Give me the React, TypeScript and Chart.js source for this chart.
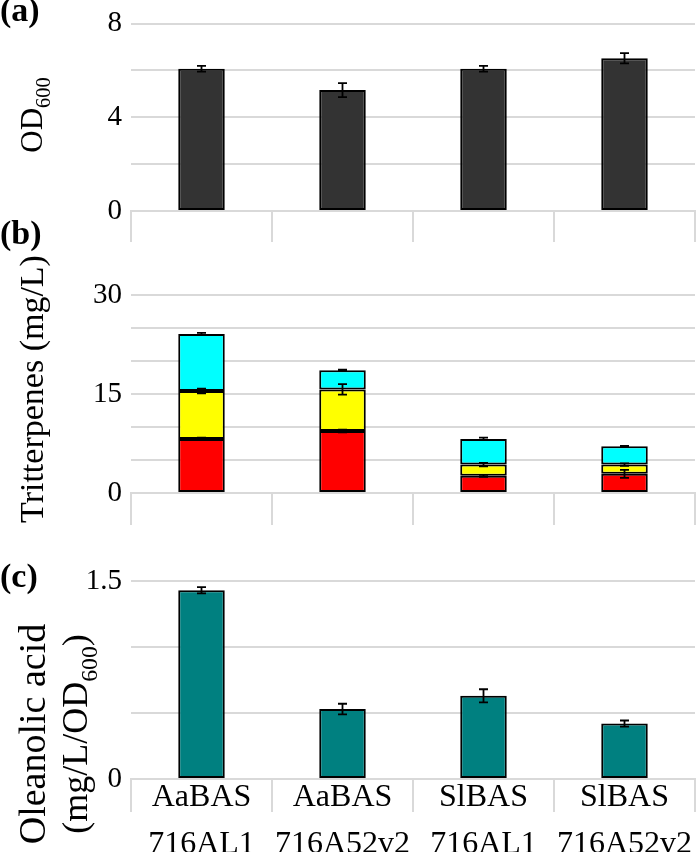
import React, { useEffect, useRef } from "react";
import { Chart, registerables } from "chart.js";

Chart.register(...registerables);

// ---------- data ----------
const categories: string[][] = [
  ["AaBAS", "716AL1"],
  ["AaBAS", "716A52v2"],
  ["SlBAS", "716AL1"],
  ["SlBAS", "716A52v2"],
];

// (a) OD600
const od600Values = [6.07, 5.16, 6.07, 6.52];
const od600Errors = [0.12, 0.3, 0.12, 0.22];
const od600Ticks = [0, 4, 8];

// (b) Tritterpenes (stacked)
const redValues = [8.2, 9.4, 2.6, 2.9];
const redErrors = [0.2, 0.2, 0.15, 0.6];
const yellowValues = [7.25, 6.3, 1.7, 1.4];
const yellowErrors = [0.35, 0.8, 0.25, 0.2];
const cyanValues = [8.65, 2.9, 3.9, 2.8];
const cyanErrors = [0.15, 0.1, 0.2, 0.05];
const triterpeneTicks = [0, 15, 30];

// (c) Oleanolic acid
const oleanolicValues = [1.43, 0.53, 0.63, 0.42];
const oleanolicErrors = [0.023, 0.04, 0.05, 0.023];
const oleanolicTicks = [0, 1.5];

// ---------- styling ----------
const FONT = '"Liberation Serif", "Times New Roman", serif';
const GRID = "#d9d9d9";
const W = 696;

const errorBarPlugin = {
  id: "errorBars",
  afterDatasetsDraw(chart: any, _args: any, opts: any) {
    const errs: number[][] = opts && opts.errors;
    if (!errs) return;
    const ctx = chart.ctx;
    const yScale = chart.scales.y;
    const cap = 4.5;
    errs.forEach((list, di) => {
      if (!list) return;
      const meta = chart.getDatasetMeta(di);
      meta.data.forEach((el: any, i: number) => {
        const e = list[i];
        const dy = Math.abs(yScale.getPixelForValue(e) - yScale.getPixelForValue(0));
        const x = el.x;
        const y = el.y;
        ctx.save();
        ctx.strokeStyle = "#000";
        ctx.lineWidth = 1.8;
        ctx.beginPath();
        ctx.moveTo(x, y - dy);
        ctx.lineTo(x, y + dy);
        ctx.moveTo(x - cap, y - dy);
        ctx.lineTo(x + cap, y - dy);
        ctx.moveTo(x - cap, y + dy);
        ctx.lineTo(x + cap, y + dy);
        ctx.stroke();
        ctx.restore();
      });
    });
  },
};

type Seg = { t: string; sub?: boolean };
type TitleLine = { x: number; cy: number; size: number; segs: Seg[] };

const panelTextPlugin = {
  id: "panelText",
  afterDraw(chart: any, _args: any, opts: any) {
    if (!opts) return;
    const ctx = chart.ctx;
    ctx.save();
    ctx.fillStyle = "#000";
    if (opts.letter) {
      ctx.font = `bold ${opts.letterSize}px ${FONT}`;
      ctx.textAlign = "left";
      ctx.textBaseline = "alphabetic";
      ctx.fillText(opts.letter, opts.letterX, opts.letterY);
    }
    (opts.titles || []).forEach((line: TitleLine) => {
      const subSize = line.size * 0.66;
      let total = 0;
      const parts = line.segs.map((s) => {
        const size = s.sub ? subSize : line.size;
        ctx.font = `${size}px ${FONT}`;
        const w = ctx.measureText(s.t).width;
        total += w;
        return { ...s, size, w };
      });
      ctx.save();
      ctx.translate(line.x, line.cy);
      ctx.rotate(-Math.PI / 2);
      ctx.textAlign = "left";
      ctx.textBaseline = "alphabetic";
      let pos = -total / 2;
      parts.forEach((p) => {
        ctx.font = `${p.size}px ${FONT}`;
        ctx.fillText(p.t, pos, p.sub ? line.size * 0.27 : 0);
        pos += p.w;
      });
      ctx.restore();
    });
    ctx.restore();
  },
};

function makeScales(opts: {
  max: number;
  step: number;
  labelTicks: number[];
  tickLen: number;
  xHeight: number;
  showLabels: boolean;
  labelPadding?: number;
}) {
  return {
    x: {
      offset: true,
      grid: {
        offset: true,
        drawOnChartArea: false,
        drawTicks: true,
        tickLength: opts.tickLen,
        color: GRID,
        tickColor: GRID,
        lineWidth: 2,
        tickWidth: 2,
      },
      border: { display: true, color: GRID, width: 2 },
      ticks: {
        display: opts.showLabels,
        color: "#000",
        maxRotation: 0,
        autoSkip: false,
        padding: opts.labelPadding ?? 0,
        font: { family: FONT, size: 32, lineHeight: 1.47 },
      },
      afterFit: (s: any) => {
        s.height = opts.xHeight;
      },
    },
    y: {
      min: 0,
      max: opts.max,
      ticks: {
        stepSize: opts.step,
        color: "#000",
        padding: 9,
        font: { family: FONT, size: 29, lineHeight: 1 },
        callback: (v: any) => {
          const n = Number(v);
          return opts.labelTicks.some((t) => Math.abs(t - n) < 1e-9) ? String(n) : "";
        },
      },
      grid: { color: GRID, lineWidth: 2, drawTicks: false },
      border: { display: false },
      afterFit: (s: any) => {
        s.width = 131;
      },
    },
  };
}

function baseBar(data: number[], color: string) {
  return {
    data,
    backgroundColor: color,
    borderColor: "#000",
    borderWidth: 2,
    barPercentage: 0.33,
    categoryPercentage: 1,
    borderSkipped: false,
  };
}

function PanelChart({ top, height, config }: { top: number; height: number; config: any }) {
  const ref = useRef<HTMLCanvasElement | null>(null);
  useEffect(() => {
    if (!ref.current) return;
    const chart = new Chart(ref.current, config);
    return () => chart.destroy();
  }, [config]);
  return (
    <canvas
      ref={ref}
      width={W}
      height={height}
      style={{ position: "absolute", left: 0, top, width: W, height }}
    />
  );
}

const configA = {
  type: "bar",
  data: {
    labels: categories,
    datasets: [baseBar(od600Values, "#333333")],
  },
  options: {
    animation: false,
    responsive: false,
    devicePixelRatio: 1,
    layout: { padding: { top: 16, bottom: 3, left: 0, right: 1 } },
    plugins: {
      legend: { display: false },
      tooltip: { enabled: false },
      errorBars: { errors: [od600Errors] },
      panelText: {
        letter: "(a)",
        letterX: 0,
        letterY: 21,
        letterSize: 34,
        titles: [{ x: 42, cy: 115, size: 31, segs: [{ t: "OD" }, { t: "600", sub: true }] }],
      },
    },
    scales: makeScales({ max: 8, step: 1, labelTicks: od600Ticks, tickLen: 31, xHeight: 31, showLabels: false }),
  },
  plugins: [errorBarPlugin, panelTextPlugin],
};

const configB = {
  type: "bar",
  data: {
    labels: categories,
    datasets: [
      { ...baseBar(redValues, "#ff0000"), stack: "s" },
      { ...baseBar(yellowValues, "#ffff00"), stack: "s" },
      { ...baseBar(cyanValues, "#00ffff"), stack: "s" },
    ],
  },
  options: {
    animation: false,
    responsive: false,
    devicePixelRatio: 1,
    layout: { padding: { top: 80, bottom: 5, left: 0, right: 1 } },
    plugins: {
      legend: { display: false },
      tooltip: { enabled: false },
      errorBars: { errors: [redErrors, yellowErrors, cyanErrors] },
      panelText: {
        letter: "(b)",
        letterX: 0,
        letterY: 29,
        letterSize: 34,
        titles: [{ x: 43, cy: 174, size: 34, segs: [{ t: "Tritterpenes (mg/L)" }] }],
      },
    },
    scales: (() => {
      const s: any = makeScales({ max: 30, step: 5, labelTicks: triterpeneTicks, tickLen: 32, xHeight: 32, showLabels: false });
      s.x.stacked = true;
      s.y.stacked = true;
      return s;
    })(),
  },
  plugins: [errorBarPlugin, panelTextPlugin],
};

const configC = {
  type: "bar",
  data: {
    labels: categories,
    datasets: [baseBar(oleanolicValues, "#008080")],
  },
  options: {
    animation: false,
    responsive: false,
    devicePixelRatio: 1,
    layout: { padding: { top: 51, bottom: 0, left: 0, right: 1 } },
    plugins: {
      legend: { display: false },
      tooltip: { enabled: false },
      errorBars: { errors: [oleanolicErrors] },
      panelText: {
        letter: "(c)",
        letterX: 0,
        letterY: 57,
        letterSize: 34,
        titles: [
          { x: 45, cy: 204, size: 38, segs: [{ t: "Oleanolic acid" }] },
          { x: 87, cy: 204, size: 36, segs: [{ t: "(mg/L/OD" }, { t: "600", sub: true }, { t: ")" }] },
        ],
      },
    },
    scales: makeScales({
      max: 1.5,
      step: 0.5,
      labelTicks: oleanolicTicks,
      tickLen: 33,
      xHeight: 73,
      showLabels: true,
      labelPadding: -38,
    }),
  },
  plugins: [errorBarPlugin, panelTextPlugin],
};

export default function App() {
  useEffect(() => {
    document.body.style.margin = "0";
  }, []);
  return (
    <div style={{ position: "relative", width: W, height: 852, overflow: "hidden", background: "#fff" }}>
      <PanelChart top={0} height={245} config={configA} />
      <PanelChart top={215} height={315} config={configB} />
      <PanelChart top={530} height={322} config={configC} />
    </div>
  );
}
